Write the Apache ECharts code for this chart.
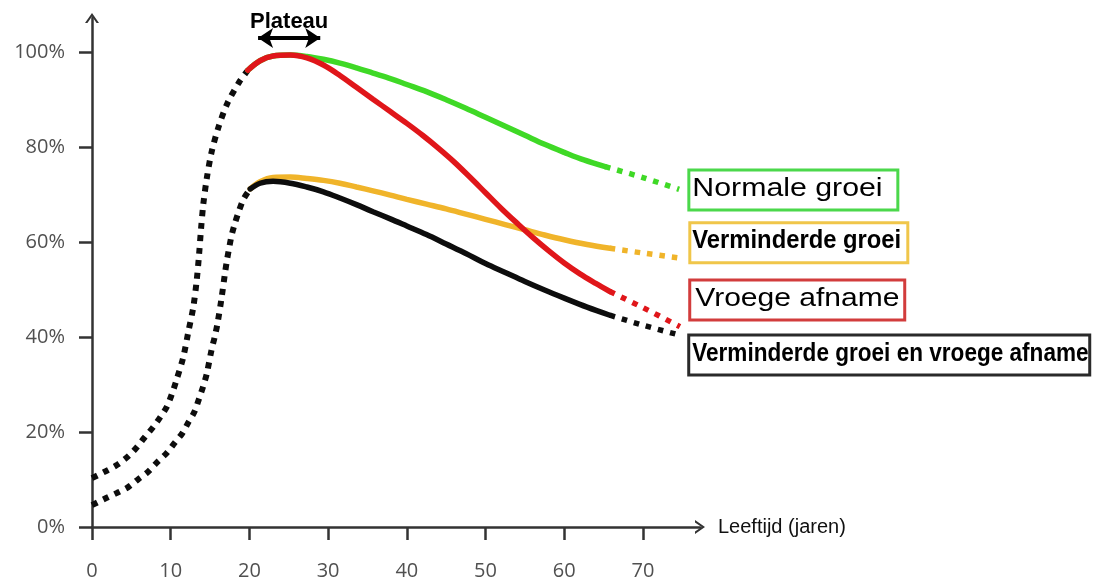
<!DOCTYPE html>
<html>
<head>
<meta charset="utf-8">
<script src="https://cdn.jsdelivr.net/npm/echarts@6/dist/echarts.min.js"></script>
<style>
html,body{margin:0;padding:0;background:#fff;}
#chart{width:1094px;height:581px;}
</style>
</head>
<body>
<div id="chart"></div>
<script>
// ---- data (age in years, % of peak bone mass) ----
var xTicks = [0, 10, 20, 30, 40, 50, 60, 70];
var yTicks = [0, 20, 40, 60, 80, 100];

var riseUpper = [[0,10.3],[1.8,11.8],[3.2,13.1],[4.6,14.9],[5.7,16.8],[6.7,18.9],[7.8,21.1],[8.7,23.2],[9.5,25.3],[10.15,28],[10.67,30.6],[11.6,35.8],[12.24,41.1],[12.87,46.3],[13.3,51.9],[13.6,57.3],[13.85,62.7],[14.15,68.1],[14.6,73.6],[15.2,79],[16.05,84.1],[17.19,89.2],[18.72,93.75],[19.8,96.2]];
var riseLower = [[0,4.6],[1.8,6.1],[3.2,7.2],[4.6,8.4],[5.9,10.1],[7.1,11.6],[8.2,13.5],[9.5,15.6],[10.5,17.7],[11.5,19.8],[12.2,21.9],[13.0,24.2],[13.6,27],[14.14,29.7],[14.57,32.2],[15.2,37.4],[15.6,40.1],[15.95,42.9],[16.45,48.1],[16.9,53.5],[17.15,56.2],[17.45,59.0],[17.75,61.5],[18.2,64.2],[18.7,66.7],[19.3,69.2],[20.1,71.2]];

var normalSolid = [[19.8,96.2],[21.35,98.2],[23,99.2],[25.2,99.4],[27.3,99.1],[29.4,98.5],[31.5,97.7],[33.6,96.7],[35.7,95.6],[38,94.4],[40,93.2],[42.5,91.7],[45,90.0],[47.5,88.2],[50,86.3],[52.5,84.4],[55,82.5],[57.5,80.6],[60,78.9],[62.5,77.3],[65.2,75.9]];
var normalDotted = [[65.2,75.9],[70,73.6],[74.6,71.1]];

var earlySolid = [[19.8,96.2],[21.35,98.2],[23,99.2],[25.2,99.4],[27.3,98.8],[29.4,97.3],[31.5,95.1],[33.6,92.6],[35.7,90.1],[37.9,87.5],[40,85.0],[42,82.5],[44,79.8],[46,76.9],[48,73.7],[50,70.4],[52,67.1],[54,64.0],[56,61.0],[58,58.2],[60,55.6],[62,53.3],[64,51.3],[65.8,49.6]];
var earlyDotted = [[65.8,49.6],[70,46.2],[74.7,42.2]];

var reducedSolid = [[20.1,71.2],[21.35,72.7],[23,73.6],[25.2,73.7],[27.3,73.4],[29.4,73.0],[31.5,72.4],[33.6,71.6],[35.7,70.8],[37.9,69.9],[40,69.0],[42.5,68.0],[45,67.0],[47.5,65.9],[50,64.8],[52.5,63.7],[55,62.6],[57.5,61.5],[60,60.5],[62.9,59.5],[65.8,58.7]];
var reducedDotted = [[65.8,58.7],[70,57.7],[74.9,56.6]];

var bothSolid = [[20.1,71.2],[21.35,72.4],[23,72.8],[25.2,72.4],[27.3,71.6],[29.4,70.6],[31.5,69.3],[33.6,67.9],[35.7,66.4],[37.9,64.9],[40,63.4],[42.5,61.6],[45,59.6],[47.5,57.6],[50,55.5],[52.5,53.6],[55,51.7],[57.5,49.9],[60,48.2],[62.9,46.3],[65.8,44.6]];
var bothDotted = [[65.8,44.6],[70,42.5],[74.7,40.4]];

var labels = ['Normale groei', 'Verminderde groei', 'Vroege afname', 'Verminderde groei en vroege afname'];
var plateauRange = [21.1, 29.0];
var plateauLevel = 103;
var xAxisTitle = 'Leeftijd (jaren)';
var plateauTitle = 'Plateau';

// ---- styling ----
var cGreen = '#3fd926', cRed = '#e0161a', cOrange = '#f0b42a', cBlack = '#0d0d0d';
var dotDash = [6, 6.5];
var chevronUp = 'path://M0,10 L7,0 L14,10 L11.6,10 L7,3.4 L2.4,10 Z';

function solid(data, color, z) {
  return { type: 'line', data: data, smooth: 0.35, symbol: 'none', z: z,
    lineStyle: { color: color, width: 5.5, cap: 'round' }, silent: true };
}
function dotted(data, color, z) {
  return { type: 'line', data: data, smooth: 0.3, symbol: 'none', z: z, silent: true,
    lineStyle: { color: color, width: 5.5, type: [5.5, 7] } };
}

var chart = echarts.init(document.getElementById('chart'));
chart.setOption({
  animation: false,
  backgroundColor: '#fff',
  grid: { left: 92, right: 394, top: 18, bottom: 54, containLabel: false },
  xAxis: {
    type: 'value', min: 0, max: 77.25,
    name: xAxisTitle, nameLocation: 'end', nameGap: 18,
    nameTextStyle: { color: '#111', fontSize: 20, fontFamily: 'Liberation Sans, Arial', align: 'left', verticalAlign: 'middle' },
    splitLine: { show: false },
    axisLine: { show: true, onZero: false, symbol: ['none', chevronUp], symbolSize: [14, 10], lineStyle: { color: '#333', width: 2.5 } },
    axisTick: { show: true, length: 13, lineStyle: { color: '#333', width: 2.5 }, customValues: xTicks },
    axisLabel: { color: '#505050', fontSize: 20, fontFamily: 'Open Sans', margin: 34, customValues: xTicks }
  },
  yAxis: {
    type: 'value', min: 0, max: 107.2,
    splitLine: { show: false },
    axisLine: { show: true, onZero: false, symbol: ['none', chevronUp], symbolSize: [14, 10], lineStyle: { color: '#333', width: 2.5 } },
    axisTick: { show: true, length: 13, lineStyle: { color: '#333', width: 2.5 }, customValues: yTicks },
    axisLabel: { color: '#505050', fontSize: 20, fontFamily: 'Open Sans', margin: 27, formatter: '{value}%', customValues: yTicks }
  },
  series: [
    { type: 'line', data: riseUpper, smooth: 0.3, symbol: 'none', z: 2, silent: true,
      lineStyle: { color: cBlack, width: 6, type: dotDash },
      markLine: {
        silent: true, symbol: ['arrow', 'arrow'], symbolSize: [15, 15],
        lineStyle: { color: '#000', width: 4, type: 'solid' },
        label: { show: true, position: 'middle', formatter: plateauTitle, color: '#000', fontSize: 22, fontWeight: 'bold', fontFamily: 'Liberation Sans, Arial', distance: 5 },
        data: [[{ coord: [plateauRange[0], plateauLevel] }, { coord: [plateauRange[1], plateauLevel] }]]
      } },
    { type: 'line', data: riseLower, smooth: 0.3, symbol: 'none', z: 2, silent: true,
      lineStyle: { color: cBlack, width: 6, type: dotDash } },
    solid(normalSolid, cGreen, 3),
    solid(earlySolid, cRed, 4),
    solid(reducedSolid, cOrange, 3),
    solid(bothSolid, cBlack, 4),
    dotted(normalDotted, cGreen, 3),
    dotted(reducedDotted, cOrange, 3),
    dotted(earlyDotted, cRed, 4),
    dotted(bothDotted, cBlack, 4)
  ]
});

// ---- boxed end labels, anchored at each dashed series' last point ----
var labelStyles = [
  { src: normalDotted,  border: '#4bd84b', dx: 8.2, dy: 0.5,   w: 212, weight: 'normal', sx: 1.165, tx: 5 },
  { src: reducedDotted, border: '#f0c64a', dx: 6.8, dy: -15.5, w: 221, weight: 'bold',   sx: 0.915, tx: 4 },
  { src: earlyDotted,   border: '#d23c3c', dx: 8.3, dy: -26.6, w: 218, weight: 'normal', sx: 1.155, tx: 7 },
  { src: bothDotted,    border: '#2a2a2a', dx: 7.3, dy: 19.8,  w: 404, weight: 'bold',   sx: 0.868, tx: 5 }
];
var boxH = 43;
var graphics = [];
labelStyles.forEach(function (s, i) {
  var last = s.src[s.src.length - 1];
  var p = chart.convertToPixel({ gridIndex: 0 }, last);
  var left = p[0] + s.dx;
  var cy = p[1] + s.dy;
  graphics.push({
    type: 'rect', z: 20, silent: true,
    shape: { x: left + 1.5, y: cy - boxH / 2 + 1.5, width: s.w - 3, height: boxH - 3 },
    style: { fill: '#fff', stroke: s.border, lineWidth: 3 }
  });
  graphics.push({
    type: 'text', z: 21, silent: true,
    x: left + s.tx, y: cy - 1.5, scaleX: s.sx, scaleY: 1,
    style: { text: labels[i], fill: '#000', font: s.weight + ' 26px "Liberation Sans", Arial', align: 'left', verticalAlign: 'middle' }
  });
});
chart.setOption({ graphic: graphics });
</script>
</body>
</html>
